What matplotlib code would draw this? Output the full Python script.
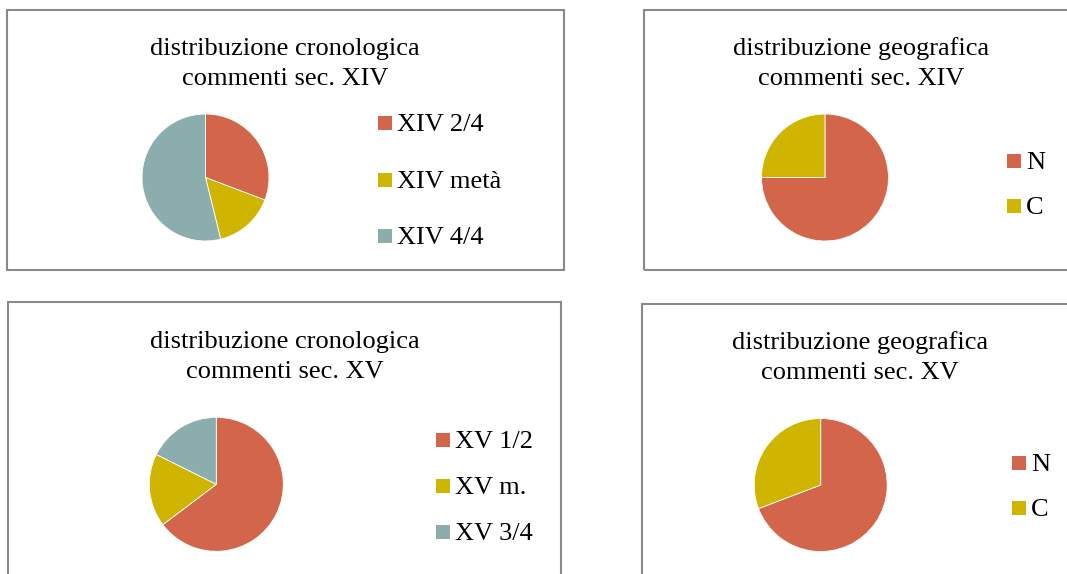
import matplotlib
matplotlib.use("Agg")
import matplotlib.pyplot as plt
from matplotlib.patches import Rectangle

# counts per period / area
chron_xiv_labels = ["XIV 2/4", "XIV metà", "XIV 4/4"]
chron_xiv_values = [4, 2, 7]

geo_xiv_labels = ["N", "C"]
geo_xiv_values = [3, 1]

chron_xv_labels = ["XV 1/2", "XV m.", "XV 3/4"]
chron_xv_values = [11, 3, 3]

geo_xv_labels = ["N", "C"]
geo_xv_values = [9, 4]

titles = [
    ("distribuzione cronologica", "commenti sec. XIV"),
    ("distribuzione geografica", "commenti sec. XIV"),
    ("distribuzione cronologica", "commenti sec. XV"),
    ("distribuzione geografica", "commenti sec. XV"),
]

colors = ["#D3654A", "#CFB500", "#8CADAD"]

W, H = 1067, 574
plt.rcParams["font.family"] = ["Liberation Serif", "DejaVu Serif"]

fig = plt.figure(figsize=(W / 100, H / 100), dpi=100)
fig.patch.set_facecolor("white")


def fx(x):
    return x / W


def fy(y):
    return 1 - y / H


def draw_panel(box, title, title_x, title_base, center, r, labels, values, leg_x, leg_rows):
    x0, y0, x1, y1 = box
    fig.add_artist(Rectangle((fx(x0), fy(y1)), (x1 - x0) / W, (y1 - y0) / H,
                             transform=fig.transFigure, fill=False,
                             edgecolor="#8A8A8A", linewidth=1.5))
    # two title lines, 30 px apart
    for k, line in enumerate(title):
        fig.text(fx(title_x), fy(title_base + 30 * k), line, ha="center",
                 va="baseline", fontsize=19, color="black")

    cx, cy = center
    ax = fig.add_axes([fx(cx - r), fy(cy + r), 2 * r / W, 2 * r / H])
    ax.pie(values, colors=colors[:len(values)], startangle=90, counterclock=False,
           radius=1, wedgeprops=dict(edgecolor="white", linewidth=0.6))
    ax.set_xlim(-1, 1)
    ax.set_ylim(-1, 1)
    ax.axis("off")

    sq = 14
    for lab, col, ry in zip(labels, colors, leg_rows):
        fig.add_artist(Rectangle((fx(leg_x), fy(ry + sq / 2)), sq / W, sq / H,
                                 transform=fig.transFigure, facecolor=col,
                                 edgecolor="none"))
        fig.text(fx(leg_x + sq + 5), fy(ry + 2), lab, ha="left", va="center",
                 fontsize=19, color="black")


draw_panel((7, 10, 564, 270), titles[0], 285, 55.5, (205.5, 177.5), 63.5,
           chron_xiv_labels, chron_xiv_values, 378, [123, 180, 236])
draw_panel((644, 10, 1080, 270), titles[1], 861, 55, (825, 177.5), 63.5,
           geo_xiv_labels, geo_xiv_values, 1007, [161, 206])
draw_panel((8, 302, 561, 590), titles[2], 285, 348, (216.3, 484.3), 67,
           chron_xv_labels, chron_xv_values, 436, [440, 486, 532])
draw_panel((642, 304, 1080, 590), titles[3], 860, 349, (820.7, 485), 66.5,
           geo_xv_labels, geo_xv_values, 1012, [463, 508])

fig.savefig("out.png", dpi=100)
